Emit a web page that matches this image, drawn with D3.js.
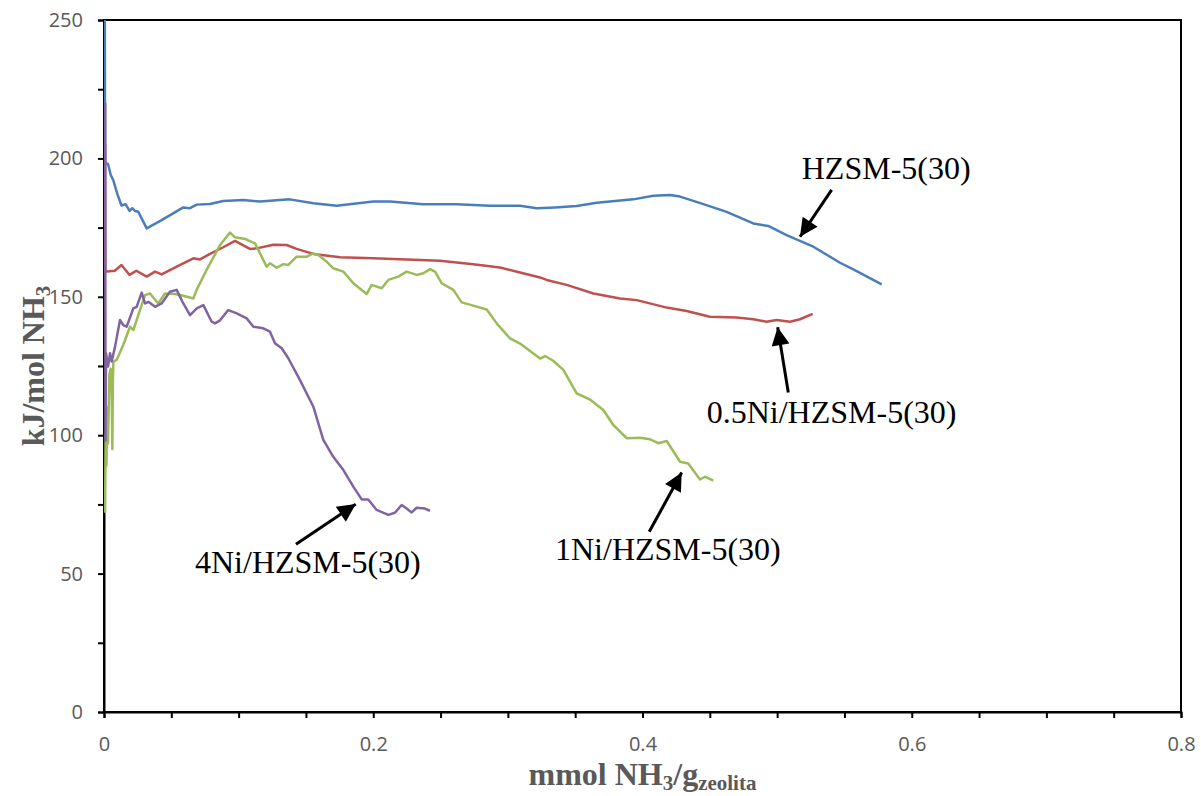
<!DOCTYPE html>
<html>
<head>
<meta charset="utf-8">
<script src="https://cdn.jsdelivr.net/npm/d3@7"></script>
<style>
  body { margin: 0; background: #fff; }
  .tick text { font-family: "Open Sans", sans-serif; font-size: 20px; fill: #595959; }
</style>
</head>
<body>
<svg id="chart"></svg>
<script>
const width = 1201;
const height = 796;
const margin = { top: 20, right: 20, bottom: 84, left: 104 };

// series: [mmol NH3/g, kJ/mol NH3]
const hzsm = [[0.0006, 250], [0.0008, 198.3], [0.003, 198], [0.005, 194], [0.007, 192], [0.01, 187], [0.013, 183], [0.016, 183.5], [0.019, 181], [0.021, 182], [0.023, 181], [0.0255, 180.7], [0.0317, 174.7], [0.0428, 177.7], [0.0589, 182.3], [0.0639, 182], [0.0689, 183.3], [0.0787, 183.5], [0.0886, 184.6], [0.1035, 185], [0.1159, 184.4], [0.138, 185.2], [0.1555, 183.8], [0.1728, 182.9], [0.2, 184.4], [0.2124, 184.4], [0.2372, 183.4], [0.262, 183.4], [0.2867, 182.9], [0.309, 182.9], [0.3214, 182], [0.3351, 182.3], [0.3511, 182.8], [0.366, 184], [0.3932, 185.2], [0.408, 186.5], [0.4204, 186.8], [0.4279, 186.2], [0.4452, 183.5], [0.4625, 180.7], [0.4823, 176.5], [0.4934, 175.6], [0.507, 172.3], [0.5269, 168.1], [0.5467, 162.3], [0.5566, 159.9], [0.5777, 154.5]];

const ni05 = [[0.0008, 205], [0.001, 159], [0.002, 159.1], [0.008, 159.4], [0.013, 161.5], [0.019, 157.9], [0.024, 159.4], [0.0317, 157.3], [0.0379, 159.1], [0.0428, 158.1], [0.054, 160.9], [0.0664, 163.9], [0.0713, 163.5], [0.0787, 165.5], [0.0886, 167.9], [0.0973, 170.2], [0.1084, 167.3], [0.1134, 167.5], [0.1258, 168.8], [0.1357, 168.7], [0.1431, 167.3], [0.1555, 165.5], [0.1753, 164.3], [0.2, 163.9], [0.2248, 163.5], [0.2496, 163], [0.2743, 161.8], [0.2941, 160.6], [0.309, 158.8], [0.3239, 157], [0.3288, 156.1], [0.3437, 154.3], [0.3635, 151.2], [0.3833, 149.4], [0.3957, 148.8], [0.418, 146.1], [0.4328, 144.9], [0.4501, 142.8], [0.47, 142.5], [0.4823, 141.9], [0.4922, 141], [0.4996, 141.6], [0.5096, 141], [0.517, 141.9], [0.5264, 143.8]];

const ni1 = [[0.0008, 72], [0.0012, 100], [0.0018, 89], [0.0025, 110], [0.003, 97], [0.004, 122], [0.005, 124], [0.0057, 115], [0.0062, 95], [0.0066, 120], [0.007, 126.6], [0.0094, 127.2], [0.0143, 132.6], [0.0193, 139.2], [0.0218, 138], [0.0267, 145.2], [0.0305, 150.6], [0.0342, 151.2], [0.0403, 147.6], [0.0453, 151.2], [0.0527, 151], [0.0589, 150.4], [0.0664, 149.4], [0.0688, 152.5], [0.0762, 159.7], [0.0862, 168.7], [0.0936, 173.2], [0.0973, 171.5], [0.1047, 170.9], [0.1122, 169.3], [0.1208, 160.9], [0.1233, 162.1], [0.1283, 160.5], [0.1332, 161.8], [0.1369, 161.5], [0.1431, 164.5], [0.1506, 164.5], [0.1555, 165.7], [0.1592, 165.1], [0.1654, 162.7], [0.1703, 160.3], [0.1778, 159.1], [0.1852, 154.9], [0.1951, 151], [0.1988, 154.3], [0.2063, 153.1], [0.2112, 156.1], [0.2186, 157.3], [0.2248, 159.1], [0.2323, 157.9], [0.2372, 158.5], [0.2422, 160], [0.2459, 159.1], [0.2508, 154.9], [0.2595, 152.5], [0.2657, 148], [0.2743, 146.8], [0.2843, 145.4], [0.2917, 140.4], [0.3016, 135], [0.309, 133.1], [0.3239, 127.7], [0.3276, 128.6], [0.3337, 126.9], [0.3412, 123.6], [0.3511, 115.1], [0.361, 112.9], [0.3709, 109.1], [0.3783, 103.7], [0.3883, 98.9], [0.3981, 99.1], [0.4056, 98.5], [0.4118, 97.1], [0.418, 97.9], [0.4279, 90.4], [0.434, 89.8], [0.4427, 84], [0.4464, 85], [0.4526, 83.6]];

const ni4 = [[0.0009, 220], [0.0011, 98], [0.0015, 129.6], [0.003, 124.8], [0.0045, 129.6], [0.0057, 126.6], [0.0082, 132], [0.0119, 141.6], [0.0143, 139.8], [0.0168, 139.2], [0.0218, 145.8], [0.0243, 146.4], [0.028, 151.5], [0.0305, 147.6], [0.033, 148.2], [0.0379, 146.4], [0.0428, 147.6], [0.049, 151.8], [0.054, 152.5], [0.0589, 147.6], [0.0639, 143.4], [0.0689, 145.8], [0.0738, 147], [0.08, 141], [0.0824, 140.4], [0.0862, 141.5], [0.0923, 145.2], [0.0986, 144], [0.106, 142.2], [0.111, 139.2], [0.1183, 138.6], [0.1233, 137.4], [0.127, 133.2], [0.132, 131.4], [0.1369, 127.8], [0.1456, 119.9], [0.1555, 110.3], [0.1629, 98.3], [0.1703, 92.2], [0.1778, 87.4], [0.1852, 81.4], [0.1914, 76.8], [0.1963, 76.8], [0.2025, 73], [0.2112, 71.2], [0.2161, 72], [0.2211, 74.8], [0.2248, 73.5], [0.2285, 72.1], [0.2322, 73.8], [0.2384, 73.5], [0.2421, 72.7]];

const seriesNames = ["HZSM-5(30)", "0.5Ni/HZSM-5(30)", "1Ni/HZSM-5(30)", "4Ni/HZSM-5(30)"];
const seriesColors = ["#4a7ebb", "#c0504d", "#9bbb59", "#8064a2"];

const xTicks = [0, 0.05, 0.1, 0.15, 0.2, 0.25, 0.3, 0.35, 0.4, 0.45, 0.5, 0.55, 0.6, 0.65, 0.7, 0.75, 0.8];
const xLabels = [0, 0.2, 0.4, 0.6, 0.8];
const yTicks = [0, 25, 50, 75, 100, 125, 150, 175, 200, 225, 250];
const yLabels = [0, 50, 100, 150, 200, 250];

// annotations: text anchor point + arrow from/to, in data units
const annotations = [
  { text: "HZSM-5(30)", tx: 0.5183, ty: 192.4, from: [0.5405, 188.6], to: [0.517, 171.7] },
  { text: "0.5Ni/HZSM-5(30)", tx: 0.4477, ty: 104.3, from: [0.5083, 115.4], to: [0.5004, 139] },
  { text: "1Ni/HZSM-5(30)", tx: 0.335, ty: 54.9, from: [0.405, 65.1], to: [0.4291, 86.5] },
  { text: "4Ni/HZSM-5(30)", tx: 0.0676, ty: 50.1, from: [0.1426, 60.6], to: [0.187, 75.1] }
];

const svg = d3.select("#chart")
  .attr("width", width)
  .attr("height", height);

const x = d3.scaleLinear().domain([0, 0.8]).range([margin.left, width - margin.right]);
const y = d3.scaleLinear().domain([0, 250]).range([height - margin.bottom, margin.top]);

svg.append("defs").append("clipPath").attr("id", "clip")
  .append("rect")
  .attr("x", x(0)).attr("y", y(250))
  .attr("width", x(0.8) - x(0)).attr("height", y(0) - y(250));

svg.append("defs").append("marker")
  .attr("id", "head")
  .attr("viewBox", "0 0 10 10")
  .attr("refX", 10).attr("refY", 5)
  .attr("markerWidth", 7).attr("markerHeight", 6)
  .attr("markerUnits", "strokeWidth")
  .attr("orient", "auto")
  .append("path")
  .attr("d", "M0,0L10,5L0,10Z")
  .attr("fill", "#000");

// frame
svg.append("rect")
  .attr("x", x(0)).attr("y", y(250))
  .attr("width", x(0.8) - x(0)).attr("height", y(0) - y(250))
  .attr("fill", "none")
  .attr("stroke", "#000")
  .attr("stroke-width", 2);

// axes
const xAxis = d3.axisBottom(x)
  .tickValues(xTicks)
  .tickSize(6)
  .tickPadding(19)
  .tickFormat(d => xLabels.some(v => Math.abs(v - d) < 1e-9) ? String(+d.toFixed(1)) : "");

const yAxis = d3.axisLeft(y)
  .tickValues(yTicks)
  .tickSize(6)
  .tickPadding(15)
  .tickFormat(d => yLabels.includes(d) ? d : "");

const gx = svg.append("g")
  .attr("transform", `translate(0, ${y(0)})`)
  .call(xAxis);

const gy = svg.append("g")
  .attr("transform", `translate(${x(0)}, 0)`)
  .call(yAxis);

[gx, gy].forEach(g => {
  g.select(".domain").attr("stroke", "#000").attr("stroke-width", 2);
  g.selectAll(".tick line").attr("stroke", "#000").attr("stroke-width", 2);
  g.selectAll(".tick text").attr("font-family", null).attr("font-size", null);
});

// lines (drawn over the frame, as in the original)
const line = d3.line().x(d => x(d[0])).y(d => y(d[1]));
const allSeries = [hzsm, ni05, ni1, ni4];

svg.append("g").attr("clip-path", "url(#clip)")
  .selectAll("path")
  .data(allSeries)
  .join("path")
  .attr("d", line)
  .attr("fill", "none")
  .attr("stroke", (d, i) => seriesColors[i])
  .attr("stroke-width", 2.5)
  .attr("stroke-linejoin", "round");

// axis titles
const xTitle = svg.append("text")
  .attr("x", (x(0) + x(0.8)) / 2)
  .attr("y", 785)
  .attr("text-anchor", "middle")
  .attr("font-family", "'Liberation Serif', 'Times New Roman', serif")
  .attr("font-weight", "bold")
  .attr("font-size", 32)
  .attr("fill", "#595959");
xTitle.append("tspan").text("mmol NH");
xTitle.append("tspan").attr("font-size", 21).attr("dy", 5).text("3");
xTitle.append("tspan").attr("dy", -5).text("/g");
xTitle.append("tspan").attr("font-size", 21).attr("dy", 5).text("zeolita");

const yTitle = svg.append("text")
  .attr("transform", `translate(44, ${(y(0) + y(250)) / 2}) rotate(-90)`)
  .attr("text-anchor", "middle")
  .attr("font-family", "'Liberation Serif', 'Times New Roman', serif")
  .attr("font-weight", "bold")
  .attr("font-size", 32)
  .attr("fill", "#595959");
yTitle.append("tspan").text("kJ/mol NH");
yTitle.append("tspan").attr("font-size", 21).attr("dy", 6).text("3");

// annotations
const ann = svg.append("g");
ann.selectAll("line")
  .data(annotations)
  .join("line")
  .attr("x1", d => x(d.from[0])).attr("y1", d => y(d.from[1]))
  .attr("x2", d => x(d.to[0])).attr("y2", d => y(d.to[1]))
  .attr("stroke", "#000")
  .attr("stroke-width", 3)
  .attr("marker-end", "url(#head)");

ann.selectAll("text")
  .data(annotations)
  .join("text")
  .attr("x", d => x(d.tx))
  .attr("y", d => y(d.ty))
  .attr("font-family", "'Liberation Serif', 'Times New Roman', serif")
  .attr("font-size", 32)
  .attr("fill", "#000")
  .text(d => d.text);
</script>
</body>
</html>
